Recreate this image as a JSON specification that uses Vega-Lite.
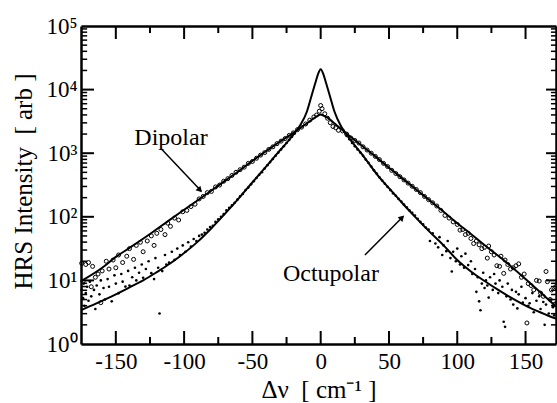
{
  "$schema": "https://vega.github.io/schema/vega-lite/v6.json",
  "width": 475,
  "height": 318,
  "autosize": {"type": "none"},
  "padding": {"left": 81, "top": 26, "right": 1, "bottom": 59},
  "datasets": {
    "xMajor": [{"v": -150}, {"v": -100}, {"v": -50}, {"v": 0}, {"v": 50}, {"v": 100}, {"v": 150}],
    "xMinor": [{"v": -125}, {"v": -75}, {"v": -25}, {"v": 25}, {"v": 75}, {"v": 125}],
    "yMajor": [{"v": 10}, {"v": 100}, {"v": 1000}, {"v": 10000}],
    "yMinor": [
      {"v": 2}, {"v": 3}, {"v": 4}, {"v": 5}, {"v": 6}, {"v": 7}, {"v": 8}, {"v": 9},
      {"v": 20}, {"v": 30}, {"v": 40}, {"v": 50}, {"v": 60}, {"v": 70}, {"v": 80}, {"v": 90},
      {"v": 200}, {"v": 300}, {"v": 400}, {"v": 500}, {"v": 600}, {"v": 700}, {"v": 800}, {"v": 900},
      {"v": 2000}, {"v": 3000}, {"v": 4000}, {"v": 5000}, {"v": 6000}, {"v": 7000}, {"v": 8000}, {"v": 9000},
      {"v": 20000}, {"v": 30000}, {"v": 40000}, {"v": 50000}, {"v": 60000}, {"v": 70000}, {"v": 80000}, {"v": 90000}
    ],
    "curves": [
      {"series": "Dipolar", "x": -175.5, "y": 9.7}, {"series": "Dipolar", "x": -160, "y": 15.8}, {"series": "Dipolar", "x": -150, "y": 23.4},
      {"series": "Dipolar", "x": -140, "y": 32.4}, {"series": "Dipolar", "x": -125, "y": 53.7}, {"series": "Dipolar", "x": -110, "y": 91.2},
      {"series": "Dipolar", "x": -100, "y": 129}, {"series": "Dipolar", "x": -90, "y": 182}, {"series": "Dipolar", "x": -75, "y": 309},
      {"series": "Dipolar", "x": -60, "y": 525}, {"series": "Dipolar", "x": -50, "y": 759}, {"series": "Dipolar", "x": -40, "y": 1072},
      {"series": "Dipolar", "x": -30, "y": 1514}, {"series": "Dipolar", "x": -20, "y": 2089}, {"series": "Dipolar", "x": -10, "y": 2951},
      {"series": "Dipolar", "x": -5, "y": 3548}, {"series": "Dipolar", "x": -2, "y": 3890}, {"series": "Dipolar", "x": 0, "y": 4074},
      {"series": "Dipolar", "x": 2, "y": 3890}, {"series": "Dipolar", "x": 5, "y": 3631}, {"series": "Dipolar", "x": 10, "y": 2951},
      {"series": "Dipolar", "x": 15, "y": 2399}, {"series": "Dipolar", "x": 20, "y": 1950}, {"series": "Dipolar", "x": 30, "y": 1318},
      {"series": "Dipolar", "x": 40, "y": 891}, {"series": "Dipolar", "x": 50, "y": 589}, {"series": "Dipolar", "x": 60, "y": 398},
      {"series": "Dipolar", "x": 75, "y": 219}, {"series": "Dipolar", "x": 90, "y": 120}, {"series": "Dipolar", "x": 100, "y": 79.4},
      {"series": "Dipolar", "x": 110, "y": 53.7}, {"series": "Dipolar", "x": 125, "y": 29.5}, {"series": "Dipolar", "x": 135, "y": 20},
      {"series": "Dipolar", "x": 150, "y": 10.5}, {"series": "Dipolar", "x": 160, "y": 6.76}, {"series": "Dipolar", "x": 172.3, "y": 3.9},
      {"series": "Octupolar", "x": -175.5, "y": 3.4}, {"series": "Octupolar", "x": -165, "y": 4.27}, {"series": "Octupolar", "x": -150, "y": 6.03},
      {"series": "Octupolar", "x": -140, "y": 7.76}, {"series": "Octupolar", "x": -130, "y": 10}, {"series": "Octupolar", "x": -120, "y": 13.5},
      {"series": "Octupolar", "x": -110, "y": 18.6}, {"series": "Octupolar", "x": -100, "y": 26.9}, {"series": "Octupolar", "x": -90, "y": 40.7},
      {"series": "Octupolar", "x": -80, "y": 66.1}, {"series": "Octupolar", "x": -70, "y": 112}, {"series": "Octupolar", "x": -60, "y": 195},
      {"series": "Octupolar", "x": -50, "y": 347}, {"series": "Octupolar", "x": -40, "y": 617}, {"series": "Octupolar", "x": -30, "y": 1096},
      {"series": "Octupolar", "x": -20, "y": 1950}, {"series": "Octupolar", "x": -15, "y": 2754}, {"series": "Octupolar", "x": -10, "y": 4571},
      {"series": "Octupolar", "x": -7, "y": 7586}, {"series": "Octupolar", "x": -4, "y": 12590}, {"series": "Octupolar", "x": -2, "y": 17380},
      {"series": "Octupolar", "x": 0, "y": 20890}, {"series": "Octupolar", "x": 2, "y": 17380}, {"series": "Octupolar", "x": 4, "y": 12590},
      {"series": "Octupolar", "x": 7, "y": 7586}, {"series": "Octupolar", "x": 10, "y": 4571}, {"series": "Octupolar", "x": 15, "y": 2630},
      {"series": "Octupolar", "x": 20, "y": 1820}, {"series": "Octupolar", "x": 30, "y": 977}, {"series": "Octupolar", "x": 43, "y": 417},
      {"series": "Octupolar", "x": 50, "y": 282}, {"series": "Octupolar", "x": 60, "y": 162}, {"series": "Octupolar", "x": 70, "y": 95.5},
      {"series": "Octupolar", "x": 80, "y": 57.5}, {"series": "Octupolar", "x": 90, "y": 35.5}, {"series": "Octupolar", "x": 100, "y": 20.9},
      {"series": "Octupolar", "x": 110, "y": 13.8}, {"series": "Octupolar", "x": 120, "y": 9.77}, {"series": "Octupolar", "x": 130, "y": 7.08},
      {"series": "Octupolar", "x": 140, "y": 5.25}, {"series": "Octupolar", "x": 153, "y": 3.72}, {"series": "Octupolar", "x": 165, "y": 2.88},
      {"series": "Octupolar", "x": 172.3, "y": 2.5}
    ],
    "dipolarData": [
      {"x": -175, "y": 18.6}, {"x": -174, "y": 9.55}, {"x": -172, "y": 17.8}, {"x": -170, "y": 19.1}, {"x": -168, "y": 7.94},
      {"x": -167, "y": 16.6}, {"x": -165, "y": 11.2}, {"x": -163, "y": 12.6}, {"x": -161, "y": 4.47}, {"x": -160, "y": 14.1},
      {"x": -157, "y": 20.0}, {"x": -155, "y": 15.1}, {"x": -152, "y": 20.9}, {"x": -150, "y": 15.8}, {"x": -148, "y": 25.1},
      {"x": -145, "y": 19.1}, {"x": -142, "y": 24.0}, {"x": -140, "y": 31.6}, {"x": -137, "y": 21.4}, {"x": -135, "y": 35.5},
      {"x": -132, "y": 39.8}, {"x": -130, "y": 28.2}, {"x": -127, "y": 41.7}, {"x": -124, "y": 50.1}, {"x": -122, "y": 35.5},
      {"x": -120, "y": 55.0}, {"x": -117, "y": 63.1}, {"x": -114, "y": 52.5}, {"x": -112, "y": 79.4}, {"x": -110, "y": 70.8},
      {"x": -107, "y": 95.5}, {"x": -104, "y": 89.1}, {"x": -101, "y": 120}, {"x": -98, "y": 126}, {"x": -95, "y": 145},
      {"x": -92, "y": 158}, {"x": -89, "y": 191}, {"x": -86, "y": 209}, {"x": -83, "y": 240}, {"x": -80, "y": 251},
      {"x": -77, "y": 295}, {"x": -74, "y": 316}, {"x": -71, "y": 363}, {"x": -68, "y": 398}, {"x": -65, "y": 447},
      {"x": -62, "y": 501}, {"x": -59, "y": 550}, {"x": -56, "y": 603}, {"x": -53, "y": 692}, {"x": -50, "y": 741},
      {"x": -47, "y": 832}, {"x": -44, "y": 933}, {"x": -41, "y": 1023}, {"x": -38, "y": 1148}, {"x": -35, "y": 1259},
      {"x": -32, "y": 1413}, {"x": -29, "y": 1549}, {"x": -26, "y": 1698}, {"x": -23, "y": 1905}, {"x": -20, "y": 2089},
      {"x": -17, "y": 2344}, {"x": -14, "y": 2570}, {"x": -11, "y": 2884}, {"x": -8, "y": 3311}, {"x": -5, "y": 3715},
      {"x": -3, "y": 3981}, {"x": -1, "y": 4571}, {"x": 0, "y": 5623}, {"x": 1, "y": 5012}, {"x": 3, "y": 4169},
      {"x": 5, "y": 3548}, {"x": 7, "y": 3020}, {"x": 9, "y": 2630}, {"x": 11, "y": 2512}, {"x": 13, "y": 2291},
      {"x": 16, "y": 2239}, {"x": 19, "y": 1995}, {"x": 22, "y": 1738}, {"x": 25, "y": 1585}, {"x": 28, "y": 1445},
      {"x": 31, "y": 1259}, {"x": 34, "y": 1122}, {"x": 37, "y": 1000}, {"x": 40, "y": 891}, {"x": 43, "y": 794},
      {"x": 46, "y": 692}, {"x": 49, "y": 617}, {"x": 52, "y": 537}, {"x": 55, "y": 479}, {"x": 58, "y": 427},
      {"x": 61, "y": 380}, {"x": 64, "y": 339}, {"x": 67, "y": 302}, {"x": 70, "y": 269}, {"x": 73, "y": 240},
      {"x": 76, "y": 209}, {"x": 79, "y": 186}, {"x": 82, "y": 166}, {"x": 85, "y": 148}, {"x": 88, "y": 126},
      {"x": 91, "y": 105}, {"x": 94, "y": 95.5}, {"x": 97, "y": 83.2}, {"x": 100, "y": 75.9}, {"x": 102, "y": 61.7},
      {"x": 104, "y": 63.1}, {"x": 106, "y": 52.5}, {"x": 108, "y": 55.0}, {"x": 110, "y": 45.7}, {"x": 112, "y": 38.0},
      {"x": 114, "y": 41.7}, {"x": 116, "y": 36.3}, {"x": 118, "y": 31.6}, {"x": 120, "y": 33.1}, {"x": 122, "y": 22.4},
      {"x": 123, "y": 34.7}, {"x": 125, "y": 28.2}, {"x": 127, "y": 25.1}, {"x": 129, "y": 17.0}, {"x": 131, "y": 16.6},
      {"x": 132, "y": 24.0}, {"x": 134, "y": 12.9}, {"x": 135, "y": 20.9}, {"x": 137, "y": 17.8}, {"x": 139, "y": 15.1},
      {"x": 141, "y": 15.8}, {"x": 143, "y": 17.0}, {"x": 145, "y": 18.2}, {"x": 147, "y": 11.2}, {"x": 149, "y": 12.6},
      {"x": 151, "y": 2.14}, {"x": 152, "y": 8.91}, {"x": 154, "y": 8.32}, {"x": 156, "y": 7.08}, {"x": 158, "y": 10.0},
      {"x": 160, "y": 9.77}, {"x": 161, "y": 6.31}, {"x": 163, "y": 5.62}, {"x": 165, "y": 13.8}, {"x": 166, "y": 9.55},
      {"x": 168, "y": 5.01}, {"x": 169, "y": 7.08}, {"x": 171, "y": 4.17}, {"x": 172, "y": 7.94}
    ],
    "octupolarData": [
      {"x": -175, "y": 7.08}, {"x": -174, "y": 5.25}, {"x": -173.5, "y": 8.91}, {"x": -173, "y": 3.98}, {"x": -172, "y": 6.31},
      {"x": -171, "y": 7.94}, {"x": -170, "y": 4.79}, {"x": -169, "y": 9.55}, {"x": -168, "y": 5.62}, {"x": -166, "y": 7.08},
      {"x": -165, "y": 3.55}, {"x": -164, "y": 8.32}, {"x": -162, "y": 6.03}, {"x": -161, "y": 10.0}, {"x": -159, "y": 7.59},
      {"x": -158, "y": 5.01}, {"x": -156, "y": 10.5}, {"x": -155, "y": 7.94}, {"x": -153, "y": 4.68}, {"x": -151, "y": 12.0},
      {"x": -150, "y": 8.91}, {"x": -148, "y": 6.3}, {"x": -146, "y": 12.6}, {"x": -145, "y": 9.55}, {"x": -143, "y": 8.0},
      {"x": -141, "y": 14.1}, {"x": -140, "y": 8.32}, {"x": -138, "y": 11.2}, {"x": -136, "y": 15.8}, {"x": -135, "y": 10.0},
      {"x": -133, "y": 13.2}, {"x": -131, "y": 17.8}, {"x": -130, "y": 11.0}, {"x": -128, "y": 15.1}, {"x": -126, "y": 20.0},
      {"x": -124, "y": 13.0}, {"x": -122, "y": 10.5}, {"x": -121, "y": 22.4}, {"x": -119, "y": 15.8}, {"x": -118, "y": 3.02},
      {"x": -116, "y": 14.0}, {"x": -114, "y": 25.1}, {"x": -113, "y": 17.8}, {"x": -111, "y": 19.0}, {"x": -109, "y": 28.2},
      {"x": -107, "y": 21.0}, {"x": -105, "y": 31.6}, {"x": -103, "y": 25.0}, {"x": -101, "y": 35.5}, {"x": -99, "y": 28.2},
      {"x": -97, "y": 39.8}, {"x": -95, "y": 34.0}, {"x": -93, "y": 44.7}, {"x": -91, "y": 41.7}, {"x": -89, "y": 50.1},
      {"x": -87, "y": 52.5}, {"x": -85, "y": 56.2}, {"x": -83, "y": 63.1}, {"x": -81, "y": 69.2}, {"x": -79, "y": 72.4},
      {"x": -77, "y": 83.2}, {"x": -75, "y": 91.2}, {"x": -73, "y": 100}, {"x": -71, "y": 110}, {"x": -69, "y": 126},
      {"x": -67, "y": 138}, {"x": -65, "y": 151}, {"x": -63, "y": 166}, {"x": -61, "y": 186}, {"x": -59, "y": 209},
      {"x": -57, "y": 229}, {"x": -55, "y": 263}, {"x": -53, "y": 288}, {"x": -51, "y": 324}, {"x": -49, "y": 363},
      {"x": -47, "y": 407}, {"x": -45, "y": 457}, {"x": -43, "y": 501}, {"x": -41, "y": 575}, {"x": -39, "y": 646},
      {"x": -37, "y": 724}, {"x": -35, "y": 813}, {"x": -33, "y": 912}, {"x": -31, "y": 1023}, {"x": -29, "y": 1148},
      {"x": -27, "y": 1288}, {"x": -25, "y": 1445}, {"x": -23, "y": 1622}, {"x": -21, "y": 1820}, {"x": -19, "y": 2042},
      {"x": 19, "y": 1862}, {"x": 21, "y": 1660}, {"x": 23, "y": 1445}, {"x": 25, "y": 1288}, {"x": 27, "y": 1148},
      {"x": 29, "y": 1023}, {"x": 31, "y": 912}, {"x": 33, "y": 794}, {"x": 35, "y": 708}, {"x": 37, "y": 617},
      {"x": 39, "y": 537}, {"x": 41, "y": 479}, {"x": 43, "y": 417}, {"x": 45, "y": 372}, {"x": 47, "y": 331},
      {"x": 49, "y": 295}, {"x": 51, "y": 263}, {"x": 53, "y": 234}, {"x": 55, "y": 214}, {"x": 57, "y": 191},
      {"x": 59, "y": 174}, {"x": 61, "y": 155}, {"x": 63, "y": 141}, {"x": 65, "y": 126}, {"x": 67, "y": 115},
      {"x": 69, "y": 105}, {"x": 71, "y": 93.3}, {"x": 73, "y": 83.2}, {"x": 75, "y": 75.9}, {"x": 77, "y": 67.6},
      {"x": 79, "y": 63.1}, {"x": 80, "y": 41.7}, {"x": 82, "y": 55.0}, {"x": 84, "y": 38.0}, {"x": 86, "y": 33.1},
      {"x": 87, "y": 47.9}, {"x": 89, "y": 25.1}, {"x": 90, "y": 35.5}, {"x": 92, "y": 28.8}, {"x": 93, "y": 41.7},
      {"x": 95, "y": 22.4}, {"x": 96, "y": 13.8}, {"x": 97, "y": 28.2}, {"x": 99, "y": 20.0}, {"x": 100, "y": 31.6},
      {"x": 102, "y": 17.8}, {"x": 103, "y": 24.0}, {"x": 105, "y": 15.8}, {"x": 106, "y": 26.3}, {"x": 108, "y": 17.4},
      {"x": 110, "y": 20.0}, {"x": 111, "y": 12.6}, {"x": 113, "y": 15.1}, {"x": 114, "y": 6.61}, {"x": 115, "y": 11.2},
      {"x": 116, "y": 4.68}, {"x": 117, "y": 3.39}, {"x": 118, "y": 8.91}, {"x": 119, "y": 13.2}, {"x": 120, "y": 7.59},
      {"x": 121, "y": 10.0}, {"x": 122, "y": 8.32}, {"x": 123, "y": 5.37}, {"x": 124, "y": 11.2}, {"x": 126, "y": 7.08},
      {"x": 127, "y": 12.6}, {"x": 128, "y": 8.91}, {"x": 130, "y": 6.31}, {"x": 131, "y": 10.0}, {"x": 133, "y": 7.94},
      {"x": 134, "y": 2.24}, {"x": 135, "y": 1.86}, {"x": 136, "y": 5.62}, {"x": 137, "y": 8.91}, {"x": 139, "y": 5.01},
      {"x": 140, "y": 7.08}, {"x": 141, "y": 4.17}, {"x": 143, "y": 6.61}, {"x": 144, "y": 3.63}, {"x": 145, "y": 6.03},
      {"x": 147, "y": 7.94}, {"x": 148, "y": 4.47}, {"x": 150, "y": 5.25}, {"x": 152, "y": 3.98}, {"x": 153, "y": 4.37},
      {"x": 155, "y": 6.31}, {"x": 156, "y": 3.16}, {"x": 158, "y": 4.79}, {"x": 160, "y": 5.62}, {"x": 161, "y": 3.55},
      {"x": 163, "y": 4.57}, {"x": 164, "y": 2.00}, {"x": 165, "y": 4.17}, {"x": 167, "y": 3.02}, {"x": 168, "y": 5.01},
      {"x": 170, "y": 3.80}, {"x": 171, "y": 2.82}, {"x": 172, "y": 4.47}
    ],
    "labels": [
      {"x": -109.6, "y": 1346, "text": "Dipolar"},
      {"x": 7.5, "y": 9.8, "text": "Octupolar"}
    ],
    "arrows": [
      {"name": "Dipolar", "x": -116.4, "y": 1151, "x2": -87.5, "y2": 255, "hx": -88.4, "hy": 262},
      {"name": "Octupolar", "x": 32.4, "y": 25.1, "x2": 60, "y2": 99, "hx": 59.6, "hy": 97}
    ]
  },
  "layer": [
    {
      "data": {"name": "curves"},
      "mark": {"type": "line", "color": "black", "strokeWidth": 2, "interpolate": "monotone"},
      "encoding": {
        "x": {"field": "x", "type": "quantitative",
          "scale": {"domain": [-175.5, 172.3], "nice": false, "zero": false},
          "axis": {"orient": "bottom",
            "values": [-150, -100, -50, 0, 50, 100, 150],
            "labelExpr": "'' + datum.value",
            "ticks": false,
            "domainColor": "black", "domainWidth": 2.5, "grid": false,
            "labelPadding": 6, "labelFont": "Liberation Serif", "labelFontSize": 23, "labelColor": "black", "labelBaseline": "top",
            "title": "Δν\u00a0\u00a0[ cm⁻¹ ]", "titleFont": "Liberation Serif", "titleFontSize": 25, "titleFontWeight": "normal", "titleColor": "black",
            "titleY": 53, "titleBaseline": "alphabetic"}},
        "y": {"field": "y", "type": "quantitative",
          "scale": {"type": "log", "domain": [1, 100000], "nice": false},
          "axis": {"orient": "left",
            "values": [1, 10, 100, 1000, 10000, 100000],
            "labelExpr": "datum.value === 1 ? '10⁰' : datum.value === 10 ? '10¹' : datum.value === 100 ? '10²' : datum.value === 1000 ? '10³' : datum.value === 10000 ? '10⁴' : '10⁵'",
            "ticks": false,
            "domainColor": "black", "domainWidth": 2.5, "grid": false,
            "labelPadding": 4, "labelFont": "Liberation Serif", "labelFontSize": 23, "labelColor": "black",
            "title": "HRS Intensity\u00a0\u00a0[ arb ]", "titleFont": "Liberation Serif", "titleFontSize": 25, "titleFontWeight": "normal", "titleColor": "black",
            "titleX": -50, "titleY": 155, "titleBaseline": "alphabetic", "titleAlign": "center", "titleAngle": 270}},
        "detail": {"field": "series"}
      }
    },
    {
      "data": {"name": "dipolarData"},
      "mark": {"type": "point", "shape": "circle", "filled": false, "stroke": "black", "strokeWidth": 1, "size": 16, "opacity": 1},
      "encoding": {
        "x": {"field": "x", "type": "quantitative",
          "axis": {"orient": "top", "labels": false, "title": null, "ticks": false, "domainColor": "black", "domainWidth": 2.5, "grid": false}},
        "y": {"field": "y", "type": "quantitative",
          "axis": {"orient": "right", "labels": false, "title": null, "ticks": false, "domainColor": "black", "domainWidth": 2.5, "grid": false}}
      }
    },
    {
      "data": {"name": "octupolarData"},
      "mark": {"type": "point", "shape": "circle", "filled": true, "color": "black", "size": 7, "opacity": 1},
      "encoding": {
        "x": {"field": "x", "type": "quantitative", "axis": null},
        "y": {"field": "y", "type": "quantitative", "axis": null}
      }
    },
    {
      "data": {"name": "xMajor"},
      "mark": {"type": "rule", "color": "black", "strokeWidth": 2},
      "encoding": {
        "x": {"field": "v", "type": "quantitative", "axis": null},
        "y": {"datum": 1, "type": "quantitative", "axis": null},
        "y2": {"datum": 1.6}
      }
    },
    {
      "data": {"name": "xMajor"},
      "mark": {"type": "rule", "color": "black", "strokeWidth": 2},
      "encoding": {
        "x": {"field": "v", "type": "quantitative", "axis": null},
        "y": {"datum": 100000, "type": "quantitative", "axis": null},
        "y2": {"datum": 62500}
      }
    },
    {
      "data": {"name": "xMinor"},
      "mark": {"type": "rule", "color": "black", "strokeWidth": 2},
      "encoding": {
        "x": {"field": "v", "type": "quantitative", "axis": null},
        "y": {"datum": 1, "type": "quantitative", "axis": null},
        "y2": {"datum": 1.29}
      }
    },
    {
      "data": {"name": "xMinor"},
      "mark": {"type": "rule", "color": "black", "strokeWidth": 2},
      "encoding": {
        "x": {"field": "v", "type": "quantitative", "axis": null},
        "y": {"datum": 100000, "type": "quantitative", "axis": null},
        "y2": {"datum": 77500}
      }
    },
    {
      "data": {"name": "yMajor"},
      "mark": {"type": "rule", "color": "black", "strokeWidth": 2},
      "encoding": {
        "y": {"field": "v", "type": "quantitative", "axis": null},
        "x": {"datum": -175.5, "type": "quantitative", "axis": null},
        "x2": {"datum": -166}
      }
    },
    {
      "data": {"name": "yMajor"},
      "mark": {"type": "rule", "color": "black", "strokeWidth": 2},
      "encoding": {
        "y": {"field": "v", "type": "quantitative", "axis": null},
        "x": {"datum": 172.3, "type": "quantitative", "axis": null},
        "x2": {"datum": 165}
      }
    },
    {
      "data": {"name": "yMinor"},
      "mark": {"type": "rule", "color": "black", "strokeWidth": 1.5},
      "encoding": {
        "y": {"field": "v", "type": "quantitative", "axis": null},
        "x": {"datum": -175.5, "type": "quantitative", "axis": null},
        "x2": {"datum": -171}
      }
    },
    {
      "data": {"name": "yMinor"},
      "mark": {"type": "rule", "color": "black", "strokeWidth": 1.5},
      "encoding": {
        "y": {"field": "v", "type": "quantitative", "axis": null},
        "x": {"datum": 172.3, "type": "quantitative", "axis": null},
        "x2": {"datum": 168.6}
      }
    },
    {
      "data": {"name": "labels"},
      "mark": {"type": "text", "font": "Liberation Serif", "fontSize": 24, "color": "black", "align": "center", "baseline": "alphabetic"},
      "encoding": {
        "x": {"field": "x", "type": "quantitative", "axis": null},
        "y": {"field": "y", "type": "quantitative", "axis": null},
        "text": {"field": "text"}
      }
    },
    {
      "data": {"name": "arrows"},
      "mark": {"type": "rule", "color": "black", "strokeWidth": 1.5},
      "encoding": {
        "x": {"field": "x", "type": "quantitative", "axis": null},
        "y": {"field": "y", "type": "quantitative", "axis": null},
        "x2": {"field": "x2"},
        "y2": {"field": "y2"}
      }
    },
    {
      "data": {"name": "arrows"},
      "transform": [{"filter": "datum.name === 'Dipolar'"}],
      "mark": {"type": "point", "shape": "triangle-up", "filled": true, "color": "black", "size": 45, "angle": 137, "opacity": 1},
      "encoding": {
        "x": {"field": "hx", "type": "quantitative", "axis": null},
        "y": {"field": "hy", "type": "quantitative", "axis": null}
      }
    },
    {
      "data": {"name": "arrows"},
      "transform": [{"filter": "datum.name === 'Octupolar'"}],
      "mark": {"type": "point", "shape": "triangle-up", "filled": true, "color": "black", "size": 45, "angle": 45, "opacity": 1},
      "encoding": {
        "x": {"field": "hx", "type": "quantitative", "axis": null},
        "y": {"field": "hy", "type": "quantitative", "axis": null}
      }
    }
  ],
  "resolve": {"axis": {"x": "independent", "y": "independent"}}
}
